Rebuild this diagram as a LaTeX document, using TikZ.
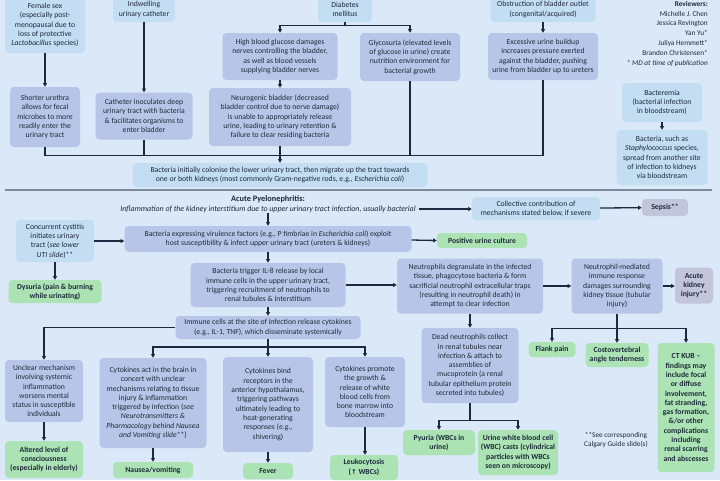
\documentclass[tikz,border=0pt]{standalone}
\usepackage{fontspec}
\setmainfont{Carlito}
\newfontfamily\dejavu{DejaVu Sans}
\usetikzlibrary{arrows.meta}
\definecolor{bgc}{HTML}{DAE8F7}
\definecolor{riskc}{HTML}{C3DDF3}
\definecolor{mechc}{HTML}{B7C6E8}
\definecolor{signc}{HTML}{ABE3B4}
\definecolor{compc}{HTML}{C3C5DA}
\definecolor{txtc}{HTML}{1E2A3A}
\definecolor{linec}{HTML}{1C2840}
\definecolor{divc}{HTML}{7D8A99}
\begin{document}
\begin{tikzpicture}[x=1pt,y=-1pt,
  base/.style={rounded corners=4pt, align=center, inner sep=1.5pt, text=txtc,
    font=\fontsize{7.7}{9.3}\selectfont},
  risk/.style={base, fill=riskc},
  mech/.style={base, fill=mechc},
  sign/.style={base, fill=signc, font=\fontsize{7.7}{9.3}\selectfont\bfseries},
  comp/.style={base, fill=compc, font=\fontsize{7.7}{9.3}\selectfont\bfseries},
  wh/.style 2 args={minimum width=#1, minimum height=#2},
  ln/.style={draw=linec, line width=1.3pt},
  arr/.style={ln, -{Triangle[length=3.6pt,width=3.8pt]}},
  plain/.style={text=txtc, font=\fontsize{7.5}{9.5}\selectfont, inner sep=0pt, align=center}
]
\fill[bgc] (0,0) rectangle (720,480);
\useasboundingbox (0,0) rectangle (720,480);

% ---------- top section ----------
\node[risk, wh={80pt}{56pt}] (female) at (45,25) {Female sex\\(especially post-\\menopausal due to\\loss of protective\\\textit{Lactobacillus} species)};
\node[mech, wh={70pt}{60pt}] (shorter) at (45,117) {Shorter urethra\\allows for fecal\\microbes to more\\readily enter the\\urinary tract};
\node[risk, wh={62pt}{25pt}] (cathr) at (144,9.5) {Indwelling\\urinary catheter};
\node[mech, wh={97pt}{47pt}] (cathm) at (144,116) {Catheter inoculates deep\\urinary tract with bacteria\\\& facilitates organisms to\\enter bladder};
\node[risk, wh={54pt}{25pt}] (diab) at (345,9.5) {Diabetes\\mellitus};
\node[mech, wh={115pt}{47pt}] (glucose) at (280,56.5) {High blood glucose damages\\nerves controlling the bladder,\\as well as blood vessels\\supplying bladder nerves};
\node[mech, wh={142pt}{58pt}] (neuro) at (280,117) {Neurogenic bladder (decreased\\bladder control due to nerve damage)\\is unable to appropriately release\\urine, leading to urinary retention \&\\failure to clear residing bacteria};
\node[mech, wh={100pt}{48pt}] (glyco) at (410,57) {Glycosuria (elevated levels\\of glucose in urine) create\\nutrition environment for\\bacterial growth};
\node[risk, wh={105pt}{25pt}] (obstr) at (543,9.5) {Obstruction of bladder outlet\\(congenital/acquired)};
\node[mech, wh={110pt}{47pt}] (exces) at (543,56.5) {Excessive urine buildup\\increases pressure exerted\\against the bladder, pushing\\urine from bladder up to ureters};
\node[risk, wh={295pt}{24pt}] (colon) at (280,175) {Bacteria initially colonise the lower urinary tract, then migrate up the tract towards\\one or both kidneys (most commonly Gram-negative rods, e.g., \textit{Escherichia coli})};

\node[plain, anchor=north east, align=right, font=\fontsize{7.3}{9.8}\selectfont] (rev) at (708,1) {\textbf{Reviewers:}\\Michelle J. Chen\\Jessica Revington\\Yan Yu*\\Juliya Hemmett*\\Brandon Christensen*\\\textit{* MD at time of publication}};

\node[risk, wh={80pt}{39pt}] (bact) at (662,102.5) {Bacteremia\\(bacterial infection\\in bloodstream)};
\node[risk, wh={91pt}{55pt}] (spread) at (662,157.5) {Bacteria, such as\\\textit{Staphylococcus} species,\\spread from another site\\of infection to kidneys\\via bloodstream};

\draw[arr] (female) -- (shorter);
\draw[arr] (cathr) -- (cathm);
\draw[ln] (diab.south) -- ++(0,3) coordinate (d1);
\draw[arr] (d1) -| (glucose.north);
\draw[arr] (d1) -| (glyco.north);
\draw[arr] (glucose) -- (neuro);
\draw[arr] (obstr) -- (exces);
\draw[ln] (shorter.south) -- ++(0,8) coordinate (b1) -| (exces.south);
\draw[ln] (cathm.south) -- (cathm.south |- b1);
\draw[ln] (glyco.south) -- (glyco.south |- b1);
\draw[arr] (neuro.south) -- (neuro.south |- colon.north);
\draw[arr] (bact) -- (spread);

% divider
\draw[draw=divc, line width=1.8pt] (5,190) -- (712,190);

% ---------- middle section ----------
\node[plain, font=\fontsize{8.3}{9.5}\selectfont\bfseries] (title) at (268,199) {Acute Pyelonephritis:};
\node[plain, font=\fontsize{7.9}{9.5}\selectfont\itshape] (sub) at (268,209) {Inflammation of the kidney interstitium due to upper urinary tract infection, usually bacterial};
\node[risk, wh={128pt}{23pt}] (coll) at (536,208.5) {Collective contribution of\\mechanisms stated below, if severe};
\node[comp, wh={46pt}{17pt}] (sepsis) at (665,207.5) {Sepsis**};
\draw[arr] (sub.east) ++(3,0) -- (coll.west |- sub.east);
\draw[arr] (coll) -- (sepsis);

\node[risk, wh={78pt}{42pt}] (cyst) at (55,241) {Concurrent cystitis\\initiates urinary\\tract (\textit{see lower}\\\textit{UTI slide})**};
\node[sign, wh={93pt}{23pt}] (dysuria) at (55,291.5) {Dysuria (pain \& burning\\while urinating)};
\node[mech, wh={287pt}{26pt}] (viru) at (268,239) {Bacteria expressing virulence factors (e.g., P fimbriae in \textit{Escherichia coli}) exploit\\host susceptibility \& infect upper urinary tract (ureters \& kidneys)};
\node[sign, wh={90pt}{15pt}] (posit) at (482,240.5) {Positive urine culture};
\draw[arr] (cyst.east) -- (cyst.east -| viru.west);
\draw[arr] (cyst) -- (dysuria);
\draw[arr] (viru.east) ++(0,1) -- (posit.west);
\draw[arr] (sub.south) -- (viru.north);

\node[mech, wh={155pt}{44pt}] (il8) at (268,285) {Bacteria trigger IL-8 release by local\\immune cells in the upper urinary tract,\\triggering recruitment of neutrophils to\\renal tubules \& interstitium};
\node[mech, wh={146pt}{55pt}] (degran) at (470,286) {Neutrophils degranulate in the infected\\tissue, phagocytose bacteria \& form\\sacrificial neutrophil extracellular traps\\(resulting in neutrophil death) in\\attempt to clear infection};
\node[mech, wh={91pt}{55pt}] (nmed) at (617,286) {Neutrophil-mediated\\immune response\\damages surrounding\\kidney tissue (tubular\\injury)};
\node[comp, wh={38pt}{36pt}] (aki) at (694,285.5) {Acute\\kidney\\injury**};
\draw[arr] (viru) -- (il8);
\draw[arr] (il8.east) -- (il8.east -| degran.west);
\draw[arr] (degran) -- (nmed);
\draw[arr] (nmed.east) -- (nmed.east -| aki.west);

\node[sign, wh={47pt}{15pt}] (flank) at (552,349.5) {Flank pain};
\node[sign, wh={63pt}{24pt}] (cva) at (617,355) {Costovertebral\\angle tenderness};
\node[sign, wh={57pt}{129pt}] (ct) at (686,407.5) {CT KUB --\\findings may\\include focal\\or diffuse\\involvement,\\fat stranding,\\gas formation,\\\&/or other\\complications\\including\\renal scarring\\and abscesses};
\draw[ln] (nmed.south) -- ++(0,15) coordinate (nb);
\draw[arr] (nb) -| (flank.north);
\draw[arr] (nb) -| (ct.north);
\draw[arr] (nb) -- (cva.north);

\node[mech, wh={97pt}{75pt}] (dead) at (470,365.5) {Dead neutrophils collect\\in renal tubules near\\infection \& attach to\\assemblies of\\mucoprotein (a renal\\tubular epithelium protein\\secreted into tubules)};
\node[sign, wh={72pt}{25pt}] (pyuria) at (439,442.5) {Pyuria (WBCs in\\urine)};
\node[sign, wh={80pt}{45pt}] (casts) at (518,452.5) {Urine white blood cell\\(WBC) casts (cylindrical\\particles with WBCs\\seen on microscopy)};
\draw[arr] (degran) -- (dead);
\draw[ln] (dead.south) -- ++(0,17) coordinate (db);
\draw[arr] (db) -| (pyuria.north);
\draw[arr] (db) -| (casts.north);

\node[plain, font=\fontsize{7.3}{9.5}\selectfont] (note) at (616,440) {**See corresponding\\Calgary Guide slide(s)};

% ---------- lower left ----------
\node[mech, wh={185pt}{23pt}] (immune) at (268,327.5) {Immune cells at the site of infection release cytokines\\(e.g., IL-1, TNF), which disseminate systemically};
\draw[arr] (il8) -- (immune);
\node[mech, wh={78pt}{62pt}] (unclear) at (44,391) {Unclear mechanism\\involving systemic\\inflammation\\worsens mental\\status in susceptible\\individuals};
\node[sign, wh={78pt}{37pt}] (alter) at (44,459.5) {Altered level of\\consciousness\\(especially in elderly)};
\node[mech, wh={107pt}{90pt}] (brain) at (153,403) {Cytokines act in the brain in\\concert with unclear\\mechanisms relating to tissue\\injury \& inflammation\\triggered by infection (\textit{see}\\\textit{Neurotransmitters \&}\\\textit{Pharmacology behind Nausea}\\\textit{and Vomiting slide}**)};
\node[sign, wh={80pt}{16pt}] (nausea) at (153,470) {Nausea/vomiting};
\node[mech, wh={90pt}{95pt}] (hypo) at (268,404.5) {Cytokines bind\\receptors in the\\anterior hypothalamus,\\triggering pathways\\ultimately leading to\\heat-generating\\responses (e.g.,\\shivering)};
\node[sign, wh={50pt}{16pt}] (fever) at (268,471) {Fever};
\node[mech, wh={80pt}{70pt}] (wbc) at (365,392) {Cytokines promote\\the growth \&\\release of white\\blood cells from\\bone marrow into\\bloodstream};
\node[sign, wh={68pt}{25pt}] (leuko) at (364,467.5) {Leukocytosis\\({\dejavu\fontsize{6.8}{9}\selectfont ↑} WBCs)};

\draw[arr] (immune) -- (hypo);
\coordinate (ib) at (268,347);
\draw[arr] (ib) -| (brain.north);
\draw[arr] (ib) -| (wbc.north);
\draw[arr] (immune.west) -| (unclear.north);
\draw[arr] (unclear) -- (alter);
\draw[arr] (brain) -- (nausea);
\draw[arr] (hypo) -- (fever);
\draw[arr] (wbc.south) -- (wbc.south |- leuko.north);
\end{tikzpicture}
\end{document}
